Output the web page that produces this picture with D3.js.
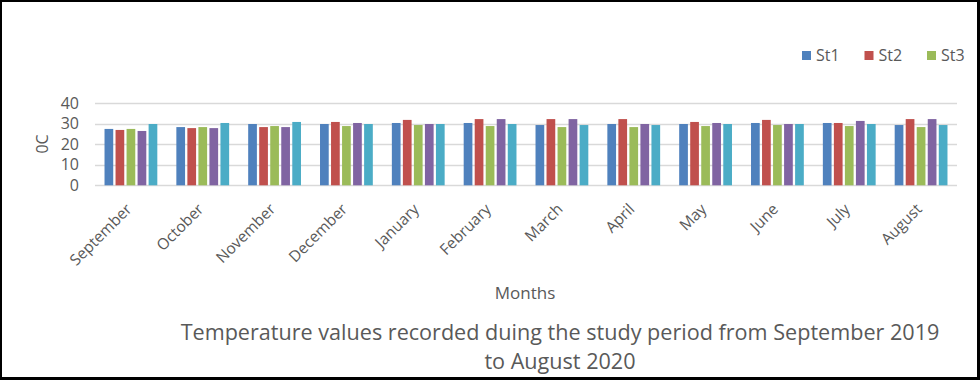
<!DOCTYPE html>
<html>
<head>
<meta charset="utf-8">
<script src="https://cdn.jsdelivr.net/npm/d3@7"></script>
<style>
body{margin:0;background:#fff;}
svg{display:block;font-family:"Open Sans",sans-serif;}
</style>
</head>
<body>
<svg id="chart"></svg>
<script>
var months = ["September","October","November","December","January","February","March","April","May","June","July","August"];
var seriesNames = ["St1","St2","St3","St4","St5"];
var legendNames = ["St1","St2","St3"];
var st1 = [27.5,28.4,29.9,29.9,30.4,30.4,29.4,29.9,29.9,30.4,30.4,29.4];
var st2 = [27.0,27.9,28.4,30.9,31.9,32.3,32.3,32.3,30.9,31.9,30.4,32.3];
var st3 = [27.5,28.4,28.9,28.9,29.4,28.9,28.4,28.4,28.9,29.4,28.9,28.4];
var st4 = [26.5,27.9,28.4,30.4,29.9,32.3,32.3,29.9,30.4,29.9,31.4,32.3];
var st5 = [29.9,30.4,30.9,29.9,29.9,29.9,29.4,29.4,29.9,29.9,29.9,29.4];
var yTicks = [0,10,20,30,40];
var colors = ["#4F81BD","#C0504D","#9BBB59","#8064A2","#4BACC6"];

var screen = {width:980,height:380}
var plot = {left:95,right:957,top:103.3,bottom:185.3}
var textColor = "#595959"

var svg = d3.select("#chart")
    .attr("width",screen.width)
    .attr("height",screen.height)

// frame round the picture
svg.append("rect")
    .attr("x",1).attr("y",1)
    .attr("width",screen.width-2.5).attr("height",screen.height-2.5)
    .attr("fill","none").attr("stroke","#000").attr("stroke-width",2)
svg.append("line").attr("x1",978.5).attr("x2",978.5).attr("y1",0).attr("y2",380).attr("stroke","#000").attr("stroke-width",3)
svg.append("line").attr("x1",0).attr("x2",980).attr("y1",378.5).attr("y2",378.5).attr("stroke","#000").attr("stroke-width",3)

var allSeries = [st1,st2,st3,st4,st5]
var rows = months.map(function(m,i)
{
    return {month:m, values:allSeries.map(function(s,j){return {name:seriesNames[j],value:s[i],index:j}})}
})

var xScale = d3.scaleBand()
    .domain(months)
    .range([plot.left,plot.right])
    .paddingInner(0.265)
    .paddingOuter(0.1325)

var x1 = d3.scaleBand()
    .domain(seriesNames)
    .range([0,xScale.bandwidth()])
    .paddingInner(0.21)
    .paddingOuter(0)

var yScale = d3.scaleLinear()
    .domain([0,40])
    .range([plot.bottom,plot.top])

// gridlines
svg.append("g")
    .selectAll("line")
    .data(yTicks)
    .enter()
    .append("line")
    .attr("x1",plot.left)
    .attr("x2",plot.right)
    .attr("y1",function(d){return Math.round(yScale(d))+0.5})
    .attr("y2",function(d){return Math.round(yScale(d))+0.5})
    .attr("stroke","#D9D9D9")
    .attr("stroke-width",1.5)

// y axis labels
var yAxis = d3.axisLeft(yScale).tickValues(yTicks).tickSize(0).tickPadding(16)
var yg = svg.append("g")
    .attr("transform","translate("+plot.left+",0)")
    .call(yAxis)
yg.select(".domain").remove()
yg.selectAll("text")
    .attr("fill",textColor)
    .style("font-size","16px")
    .style("font-family","'Open Sans',sans-serif")

// bars
var groups = svg.append("g")
    .selectAll("g")
    .data(rows)
    .enter()
    .append("g")
    .attr("transform",function(d){return "translate("+xScale(d.month)+",0)"})

groups.selectAll("rect")
    .data(function(d){return d.values})
    .enter()
    .append("rect")
    .attr("x",function(d){return x1(d.name)})
    .attr("y",function(d){return yScale(d.value)})
    .attr("width",x1.bandwidth())
    .attr("height",function(d){return yScale(0)-yScale(d.value)})
    .attr("fill",function(d){return colors[d.index]})

// month labels
var xAxis = d3.axisBottom(xScale).tickSize(0)
var xg = svg.append("g")
    .attr("transform","translate(0,"+plot.bottom+")")
    .call(xAxis)
xg.select(".domain").remove()
xg.selectAll("text")
    .attr("fill",textColor)
    .style("font-size","15.5px")
    .style("font-family","'Open Sans',sans-serif")
    .attr("text-anchor","end")
    .attr("y",0)
    .attr("dy","0.35em")
    .attr("transform","translate(-2,21) rotate(-45)")

// axis titles
svg.append("text")
    .text("0C")
    .attr("fill",textColor)
    .style("font-size","16px")
    .attr("text-anchor","middle")
    .attr("transform","translate(48,144) rotate(-90)")

svg.append("text")
    .text("Months")
    .attr("fill",textColor)
    .style("font-size","17px")
    .attr("text-anchor","middle")
    .attr("x",525)
    .attr("y",299)

// caption, sized to span the same width as the picture
var caption = svg.append("g").attr("fill",textColor).attr("text-anchor","middle")
var line1 = caption.append("text")
    .text("Temperature values recorded duing the study period from September 2019")
    .attr("x",560).attr("y",340)
    .style("font-size","20px")
var w = line1.node().getComputedTextLength()
var fs = 20*759/w
line1.style("font-size",fs+"px")
caption.append("text")
    .text("to August 2020")
    .attr("x",560).attr("y",369)
    .style("font-size",fs+"px")

// legend
var legend = svg.append("g")
    .attr("transform","translate(802,51)")
var entries = legend.selectAll("g")
    .data(legendNames)
    .enter()
    .append("g")
    .attr("transform",function(d,i){return "translate("+(i*62.5)+",0)"})
entries.append("rect")
    .attr("width",9)
    .attr("height",9)
    .attr("fill",function(d,i){return colors[i]})
entries.append("text")
    .text(function(d){return d})
    .attr("x",14)
    .attr("y",10)
    .attr("fill",textColor)
    .style("font-size","16px")
</script>
</body>
</html>
